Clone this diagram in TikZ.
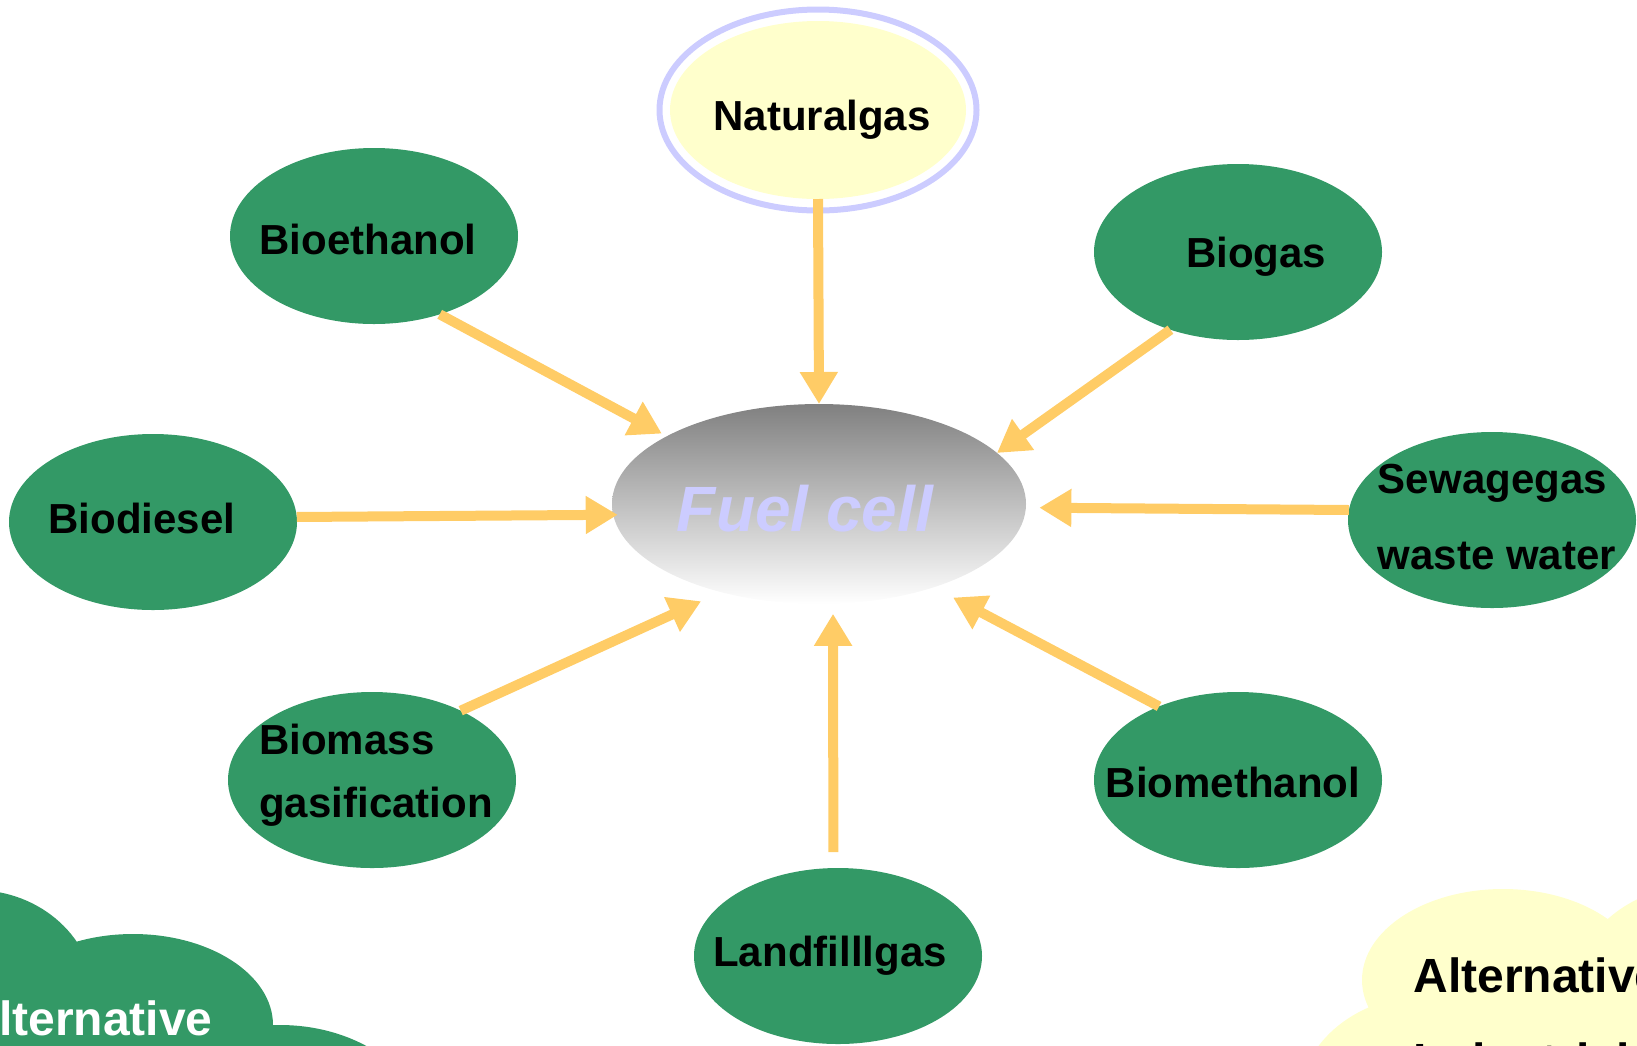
\documentclass[tikz,border=0pt]{standalone}
\usepackage{fontspec}
\setmainfont{Liberation Sans}
\usetikzlibrary{shapes.geometric,arrows.meta}
\definecolor{srcgreen}{RGB}{51,153,102}
\definecolor{palelemon}{RGB}{255,255,204}
\definecolor{natring}{RGB}{204,204,255}
\definecolor{flowamber}{RGB}{255,204,102}
\definecolor{cellgray}{RGB}{128,128,128}
% text of zero size: #1 sideways nudge, #2 raise of the baseline above the centre
\newcommand{\nodetext}[3]{\raisebox{#2}[0pt][0pt]{\makebox[0pt]{\hspace*{#1}#3}}}

\tikzset{
  fuelsrc/.style={ellipse,fill=srcgreen,minimum width=144pt,minimum height=88pt,
                  inner sep=0pt,outer sep=0pt,font=\fontsize{21}{25}\selectfont\bfseries},
  natfill/.style={fuelsrc,fill=palelemon,minimum width=148pt,minimum height=89pt},
  fuelcell/.style={ellipse,minimum width=207pt,minimum height=100pt,inner sep=0pt,outer sep=0pt,
                   top color=cellgray,bottom color=white,text=natring,
                   font=\fontsize{32}{38}\selectfont\bfseries\itshape},
  cloudtxt/.style={inner sep=0pt,anchor=base west,font=\fontsize{24}{29}\selectfont\bfseries},
  feed/.style={draw=flowamber,line width=5pt,-{Triangle[length=16pt,width=18pt]}}
}

\begin{document}
\begin{tikzpicture}[x=0.5pt,y=-0.5pt]
  \useasboundingbox (0,0) rectangle (1637,1045);
  \clip (0,0) rectangle (1637,1045);

  % clouds in the corners
  \fill[srcgreen] (-25,1000) ellipse [x radius=60pt,y radius=55pt]
                  (133,1025) ellipse [x radius=70pt,y radius=45.5pt]
                  (280,1140) ellipse [x radius=75pt,y radius=57.5pt]
                  (-50,1020) rectangle (270,1100);
  \fill[palelemon] (1503,980) ellipse [x radius=70.5pt,y radius=45.5pt]
                   (1700,1000) ellipse [x radius=65pt,y radius=57.5pt]
                   (1430,1100) ellipse [x radius=65pt,y radius=52.5pt]
                   (1380,990) rectangle (1700,1100);
  \node[cloudtxt,text=white] (altleft) at (-36,1035) {Alternative};
  \node[cloudtxt] (altright) at (1413,992) {Alternative};
  \node[cloudtxt] (industrial) at (1413,1077) {Industrial};

  \node[fuelcell] (fuel) at (819,504) {\nodetext{-14pt}{-13.7pt}{Fuel cell}};

  \node[natfill] (natgas) at (818,110) {\nodetext{4pt}{-10pt}{Naturalgas}};
  \draw[natring,line width=3pt] (natgas.center) ellipse [x radius=79.25pt,y radius=50.25pt];

  \node[fuelsrc] (bioeth) at (374,236) {\nodetext{-6pt}{-9pt}{Bioethanol}};
  \node[fuelsrc] (biogas) at (1238,252) {\nodetext{18pt}{-7.5pt}{Biogas}};
  \node[fuelsrc] (biodiesel) at (153,522) {\nodetext{-11pt}{-5.7pt}{Biodiesel}};
  \node[fuelsrc] (sewage) at (1492,520)
    {\nodetext{5pt}{13.5pt}{\begin{tabular}[t]{@{}l@{}}Sewagegas\\[13pt]waste water\end{tabular}}};
  \node[fuelsrc] (biomass) at (372,780)
    {\nodetext{4pt}{12.75pt}{\begin{tabular}[t]{@{}l@{}}Biomass\\[6.5pt]gasification\end{tabular}}};
  \node[fuelsrc] (biometh) at (1238,780) {\nodetext{-5pt}{-8.7pt}{Biomethanol}};
  \node[fuelsrc] (landfill) at (838,956) {\nodetext{-8pt}{-5pt}{Landfilllgas}};

  % feeds into the cell
  \draw[feed] (natgas.south) -- (fuel.north);
  \draw[feed,shorten >=2.8pt] (bioeth.-50) -- (fuel.156.9);
  \draw[feed] (biogas.-131.3) -- (fuel.16.4);
  \draw[feed,shorten >=-2.25pt] (biodiesel.2.4) -- (fuel.183.4);
  \draw[feed,shorten >=6.75pt] (sewage.176.4) -- (fuel.-1.94);
  \draw[feed,shorten >=11pt] (biomass.38.9) -- (fuel.-138.4);
  \draw[feed,shorten <=8pt,shorten >=5pt] (landfill.93.25) -- (fuel.-82);
  \draw[feed,shorten >=11pt] (biometh.137.7) -- (fuel.-36.4);
\end{tikzpicture}
\end{document}
